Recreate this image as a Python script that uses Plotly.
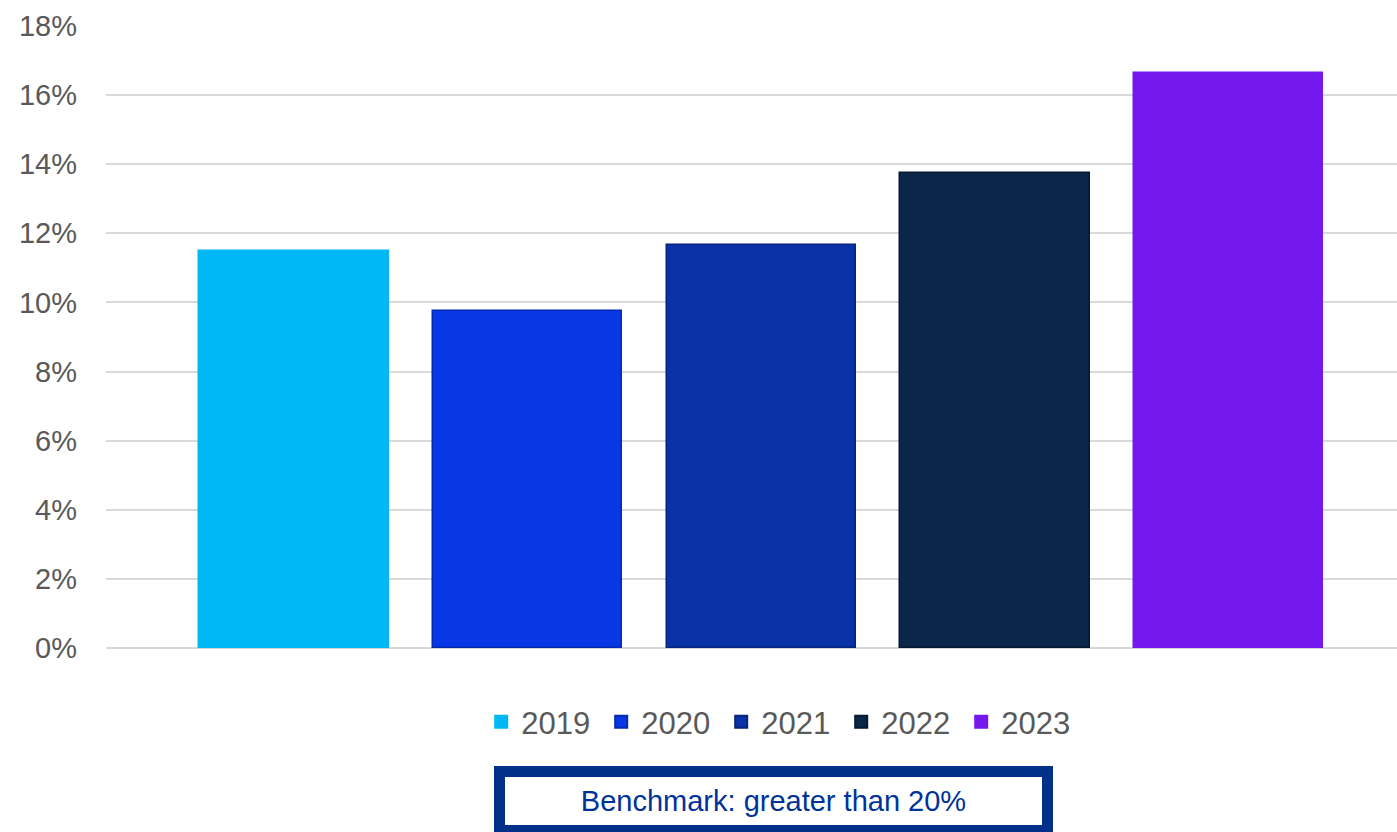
import plotly.graph_objects as go

years = ["2019", "2020", "2021", "2022", "2023"]
values = [11.5, 9.75, 11.65, 13.75, 16.65]
colors = ["#00b8f4", "#0838e6", "#0832a6", "#0a2648", "#7418ee"]
edge_colors = ["#00b8f4", "#0428b0", "#05247a", "#051a30", "#7418ee"]
tick_vals = [0, 2, 4, 6, 8, 10, 12, 14, 16, 18]
tick_text = [f"{v}%" for v in tick_vals]
benchmark_text = "Benchmark: greater than 20%"

fig = go.Figure()
for i, (yr, v, c, ec) in enumerate(zip(years, values, colors, edge_colors)):
    fig.add_trace(go.Bar(
        x=[i], y=[v], name=yr, width=0.81,
        marker=dict(color=c, line=dict(color=ec, width=1.5)),
    ))

fig.update_layout(
    width=1397, height=832,
    margin=dict(l=106, r=0, t=26, b=184),
    paper_bgcolor="white", plot_bgcolor="white",
    font=dict(family="Liberation Sans, Arial, sans-serif", color="#595959"),
    showlegend=True,
    legend=dict(
        orientation="h", x=0.523, xanchor="center", y=-0.119, yanchor="middle",
        font=dict(size=31, color="#595959"), itemsizing="constant",
        traceorder="normal", entrywidth=75,
    ),
    xaxis=dict(range=[-0.804, 4.72], showticklabels=False, showgrid=False,
               zeroline=False, showline=False),
    yaxis=dict(range=[0, 18], tickvals=tick_vals, ticktext=tick_text,
               showgrid=True, gridcolor="#d9d9d9", gridwidth=2,
               zeroline=True, zerolinecolor="#d9d9d9", zerolinewidth=2,
               tickfont=dict(size=29, color="#595959"),
               ticklabelstandoff=28, showline=False),
    bargap=0,
)

fig.add_annotation(
    xref="paper", yref="paper", x=0.517, y=-0.246,
    text=benchmark_text, showarrow=False,
    font=dict(size=29, color="#003399", family="Liberation Sans, Arial, sans-serif"),
    bgcolor="white", bordercolor="#003087", borderwidth=11,
    width=535, height=46, xanchor="center", yanchor="middle",
)

fig.write_html("out.html")
